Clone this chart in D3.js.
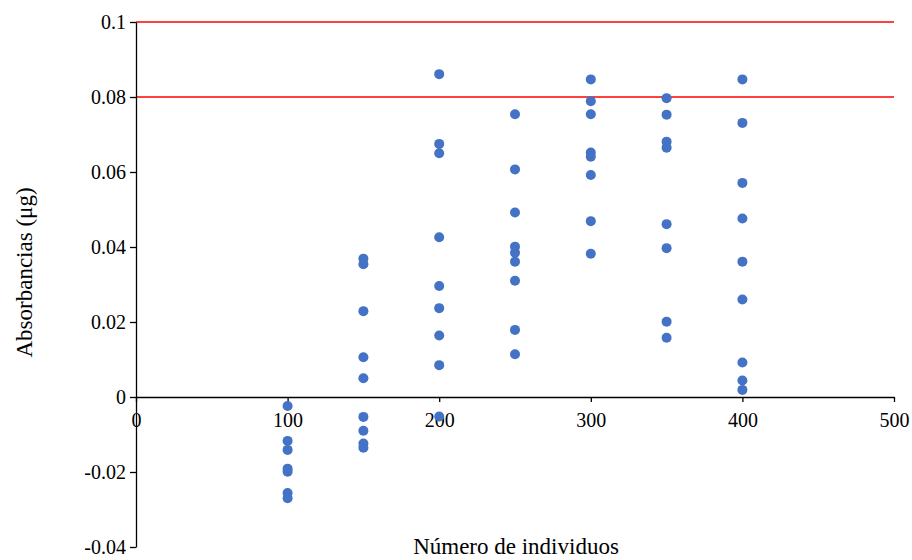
<!DOCTYPE html>
<html>
<head>
<meta charset="utf-8">
<script src="https://cdn.jsdelivr.net/npm/d3@7/dist/d3.min.js"></script>
<style>
  html, body { margin: 0; padding: 0; background: #fff; }
  svg { display: block; }
  svg text { font-family: "Liberation Serif", "DejaVu Serif", serif !important; fill: #000; }
</style>
</head>
<body>
<svg id="chart" width="912" height="560"></svg>
<script>
// ---- data ----
const groups = [100, 150, 200, 250, 300, 350, 400];
const values100 = [-0.0024, -0.0117, -0.0141, -0.0191, -0.0199, -0.0256, -0.0270];
const values150 = [0.0369, 0.0354, 0.0229, 0.0106, 0.0050, -0.0053, -0.0090, -0.0124, -0.0135];
const values200 = [0.0861, 0.0675, 0.0650, 0.0426, 0.0296, 0.0237, 0.0164, 0.0085, -0.0052];
const values250 = [0.0754, 0.0607, 0.0492, 0.0401, 0.0385, 0.0361, 0.0310, 0.0179, 0.0114];
const values300 = [0.0847, 0.0789, 0.0754, 0.0652, 0.0641, 0.0592, 0.0469, 0.0382];
const values350 = [0.0797, 0.0753, 0.0681, 0.0665, 0.0461, 0.0397, 0.0201, 0.0158];
const values400 = [0.0847, 0.0731, 0.0571, 0.0476, 0.0361, 0.0260, 0.0092, 0.0044, 0.0019];
const seriesValues = [values100, values150, values200, values250, values300, values350, values400];
const limitLines = [0.08, 0.1];
const xTicks = [0, 100, 200, 300, 400, 500];
const yTicks = [-0.04, -0.02, 0, 0.02, 0.04, 0.06, 0.08, 0.1];
const xTitle = "Número de individuos";
const yTitle = "Absorbancias (μg)";

// ---- layout ----
const svg = d3.select("#chart");
const mLeft = 136, mRight = 894, mTop = 22, mBottom = 547;
const FONT = "'Liberation Serif', 'DejaVu Serif', serif";

const x = d3.scaleLinear().domain([0, 500]).range([mLeft, mRight]);
const y = d3.scaleLinear().domain([-0.04, 0.1]).range([mBottom, mTop]);

const points = [];
groups.forEach((g, i) => seriesValues[i].forEach(v => points.push({x: g, y: v})));

// red limit lines
svg.append("g").selectAll("line").data(limitLines).join("line")
  .attr("x1", x(0)).attr("x2", x(500))
  .attr("y1", d => y(d)).attr("y2", d => y(d))
  .attr("stroke", "#ff0000").attr("stroke-width", 1.5);

// x axis at y = 0
const xAxis = svg.append("g")
  .attr("transform", `translate(0,${y(0)})`)
  .call(d3.axisBottom(x).tickValues(xTicks).tickFormat(d3.format("d")).tickSizeInner(5).tickSizeOuter(0).tickPadding(11));
xAxis.attr("font-family", FONT).attr("font-size", 20);
xAxis.select(".domain").attr("stroke", "#000").attr("stroke-width", 1.3);
xAxis.selectAll(".tick line").attr("stroke", "#000").attr("stroke-width", 1.3);
xAxis.selectAll(".tick text").style("font-size", "20px").style("font-family", FONT).attr("fill", "#000");

// y axis
const fmtY = d => d === 0 ? "0" : String(+d.toFixed(2));
const yAxis = svg.append("g")
  .attr("transform", `translate(${x(0)},0)`)
  .call(d3.axisLeft(y).tickValues(yTicks).tickFormat(fmtY).tickSizeInner(6).tickSizeOuter(0).tickPadding(4));
yAxis.attr("font-family", FONT).attr("font-size", 20);
yAxis.select(".domain").attr("stroke", "#000").attr("stroke-width", 1.3);
yAxis.selectAll(".tick line").attr("stroke", "#000").attr("stroke-width", 1.3);
yAxis.selectAll(".tick text").style("font-size", "20px").style("font-family", FONT).attr("fill", "#000");

// points
svg.append("g").selectAll("circle").data(points).join("circle")
  .attr("cx", d => x(d.x)).attr("cy", d => y(d.y)).attr("r", 5)
  .attr("fill", "#4472c4");

// titles
svg.append("text")
  .attr("x", 516).attr("y", 554)
  .attr("text-anchor", "middle")
  .style("font-size", "23px").style("font-family", FONT)
  .text(xTitle);

svg.append("text")
  .attr("transform", `translate(32,${(mTop + mBottom) / 2 - 12}) rotate(-90)`)
  .attr("text-anchor", "middle")
  .style("font-size", "23px").style("font-family", FONT)
  .text(yTitle);
</script>
</body>
</html>
